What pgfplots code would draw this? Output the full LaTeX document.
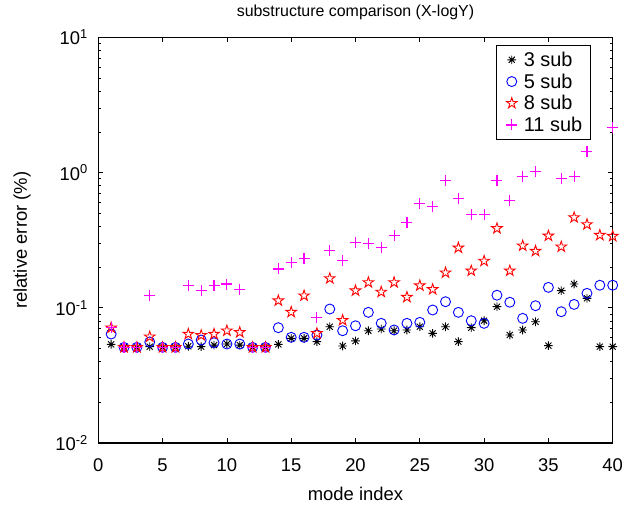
\documentclass[border=0pt]{standalone}
\usepackage{pgfplots}
\pgfplotsset{compat=1.18}
\usepackage{fontspec}
\setmainfont{Liberation Sans}
\usetikzlibrary{plotmarks}
\definecolor{mmag}{RGB}{255,0,255}
\definecolor{mblue}{RGB}{0,0,255}
\definecolor{mred}{RGB}{255,0,0}

\pgfdeclareplotmark{mstar}{%
  \pgfpathmoveto{\pgfqpoint{-\pgfplotmarksize}{0pt}}\pgfpathlineto{\pgfqpoint{\pgfplotmarksize}{0pt}}%
  \pgfpathmoveto{\pgfqpoint{0pt}{-\pgfplotmarksize}}\pgfpathlineto{\pgfqpoint{0pt}{\pgfplotmarksize}}%
  \pgfpathmoveto{\pgfqpoint{-0.707\pgfplotmarksize}{-0.707\pgfplotmarksize}}\pgfpathlineto{\pgfqpoint{0.707\pgfplotmarksize}{0.707\pgfplotmarksize}}%
  \pgfpathmoveto{\pgfqpoint{-0.707\pgfplotmarksize}{0.707\pgfplotmarksize}}\pgfpathlineto{\pgfqpoint{0.707\pgfplotmarksize}{-0.707\pgfplotmarksize}}%
  \pgfusepathqstroke}

\pgfdeclareplotmark{mplus}{%
  \pgfpathmoveto{\pgfqpoint{-\pgfplotmarksize}{0pt}}\pgfpathlineto{\pgfqpoint{\pgfplotmarksize}{0pt}}%
  \pgfpathmoveto{\pgfqpoint{0pt}{-\pgfplotmarksize}}\pgfpathlineto{\pgfqpoint{0pt}{\pgfplotmarksize}}%
  \pgfusepathqstroke}

\pgfdeclareplotmark{pentagram}{%
  \pgfpathmoveto{\pgfqpoint{0pt}{\pgfplotmarksize}}%
  \pgfpathlineto{\pgfqpoint{-0.2245\pgfplotmarksize}{0.3090\pgfplotmarksize}}%
  \pgfpathlineto{\pgfqpoint{-0.9511\pgfplotmarksize}{0.3090\pgfplotmarksize}}%
  \pgfpathlineto{\pgfqpoint{-0.3633\pgfplotmarksize}{-0.1180\pgfplotmarksize}}%
  \pgfpathlineto{\pgfqpoint{-0.5878\pgfplotmarksize}{-0.8090\pgfplotmarksize}}%
  \pgfpathlineto{\pgfqpoint{0pt}{-0.382\pgfplotmarksize}}%
  \pgfpathlineto{\pgfqpoint{0.5878\pgfplotmarksize}{-0.8090\pgfplotmarksize}}%
  \pgfpathlineto{\pgfqpoint{0.3633\pgfplotmarksize}{-0.1180\pgfplotmarksize}}%
  \pgfpathlineto{\pgfqpoint{0.9511\pgfplotmarksize}{0.3090\pgfplotmarksize}}%
  \pgfpathlineto{\pgfqpoint{0.2245\pgfplotmarksize}{0.3090\pgfplotmarksize}}%
  \pgfpathclose
  \pgfusepathqstroke}

\pgfplotstableread{
x y
1 0.0537
2 0.051
3 0.051
4 0.0516
5 0.051
6 0.051
7 0.052
8 0.0516
9 0.053
10 0.054
11 0.053
12 0.051
13 0.051
14 0.0537
15 0.0595
16 0.0595
17 0.0562
18 0.0725
19 0.0522
20 0.0569
21 0.0677
22 0.0697
23 0.0677
24 0.0686
25 0.0725
26 0.0648
27 0.0725
28 0.0562
29 0.0713
30 0.0803
31 0.102
32 0.063
33 0.0686
34 0.0789
35 0.0525
36 0.134
37 0.150
38 0.1175
39 0.0516
40 0.0516
}\subthree

\pgfplotstableread{
x y
1 0.064
2 0.051
3 0.051
4 0.0559
5 0.051
6 0.051
7 0.054
8 0.0578
9 0.0552
10 0.054
11 0.054
12 0.051
13 0.051
14 0.0713
15 0.0605
16 0.0605
17 0.063
18 0.098
19 0.0677
20 0.0737
21 0.0926
22 0.0768
23 0.0686
24 0.0768
25 0.0781
26 0.0964
27 0.111
28 0.0926
29 0.0803
30 0.0768
31 0.124
32 0.110
33 0.0836
34 0.1037
35 0.1417
36 0.0936
37 0.106
38 0.128
39 0.147
40 0.147
}\subfive

\pgfplotstableread{
x y
1 0.0713
2 0.051
3 0.051
4 0.0611
5 0.051
6 0.051
7 0.064
8 0.0626
9 0.064
10 0.0677
11 0.0659
12 0.051
13 0.051
14 0.113
15 0.093
16 0.123
17 0.0648
18 0.165
19 0.0809
20 0.134
21 0.154
22 0.131
23 0.154
24 0.120
25 0.146
26 0.137
27 0.182
28 0.278
29 0.188
30 0.222
31 0.387
32 0.188
33 0.288
34 0.263
35 0.341
36 0.283
37 0.466
38 0.414
39 0.345
40 0.339
}\subeight

\pgfplotstableread{
x y
1 0.072
2 0.051
3 0.051
4 0.123
5 0.051
6 0.051
7 0.147
8 0.134
9 0.147
10 0.150
11 0.137
12 0.051
13 0.051
14 0.194
15 0.2155
16 0.232
17 0.0845
18 0.264
19 0.223
20 0.305
21 0.300
22 0.280
23 0.341
24 0.426
25 0.592
26 0.565
27 0.870
28 0.641
29 0.491
30 0.491
31 0.880
32 0.626
33 0.931
34 1.014
36 0.900
37 0.942
38 1.442
40 2.158
}\subeleven

\begin{document}
\begin{tikzpicture}
\path[use as bounding box] (0,0) rectangle (626bp,510bp);
\begin{axis}[
  at={(98.3bp,67bp)}, anchor=south west,
  width=514.4bp, height=405.5bp, scale only axis,
  xmin=0, xmax=40, ymin=0.01, ymax=10, ymode=log,
  xtick={0,5,...,40},
  ytick={0.01,0.1,1,10},
  yticklabels={10\textsuperscript{-2},10\textsuperscript{-1},10\textsuperscript{0},10\textsuperscript{1}},
  minor ytick={0.02,0.03,0.04,0.05,0.06,0.07,0.08,0.09,0.2,0.3,0.4,0.5,0.6,0.7,0.8,0.9,2,3,4,5,6,7,8,9},
  tick pos=both, tick align=inside,
  major tick length=5bp, minor tick length=2.8bp,
  tick style={black, line width=0.8bp},
  axis line style={line width=1.1bp},
  /pgf/number format/assume math mode=true,
  tick label style={font=\fontsize{18.5}{22}\selectfont},
  xticklabel style={yshift=-12.5bp},
  yticklabel style={xshift=-7bp},
  label style={font=\fontsize{18.5}{22}\selectfont},
  xlabel={mode index},
  xlabel style={at={(axis description cs:0.5,-0.126)}, anchor=center},
  ylabel={relative error (\%)},
  ylabel style={at={(axis description cs:-0.148,0.5)}, anchor=center, rotate=0},
  clip=false,
  legend style={at={(1,1)}, anchor=north east, xshift=-22bp, yshift=-7.5bp,
    draw=black, line width=1bp, fill=white, inner xsep=5.5bp, inner ysep=3.5bp, row sep=0pt,
    nodes={inner sep=2.5bp, text height=15bp, text depth=1.7bp},
    font=\fontsize{20}{24}\selectfont},
  legend cell align=left,
  legend image code/.code={\path (0bp,0bp) (18bp,0bp); \draw[#1,only marks] plot coordinates {(9bp,0bp)};},
]
\addplot[only marks, mark=mstar, mark size=4.3bp, black, line width=0.9bp] table {\subthree};
\addlegendentry{3 sub}
\addplot[only marks, mark=o, mark size=5bp, mblue, line width=0.9bp] table {\subfive};
\addlegendentry{5 sub}
\addplot[only marks, mark=pentagram, mark size=5.6bp, mred, line width=0.9bp] table {\subeight};
\addlegendentry{8 sub}
\addplot[only marks, mark=mplus, mark size=5.5bp, mmag, line width=1.15bp] table {\subeleven};
\addlegendentry{11 sub}
\end{axis}
\node[font=\fontsize{16}{19}\selectfont] at (355.5bp,498bp) {substructure comparison (X-logY)};
\end{tikzpicture}
\end{document}
